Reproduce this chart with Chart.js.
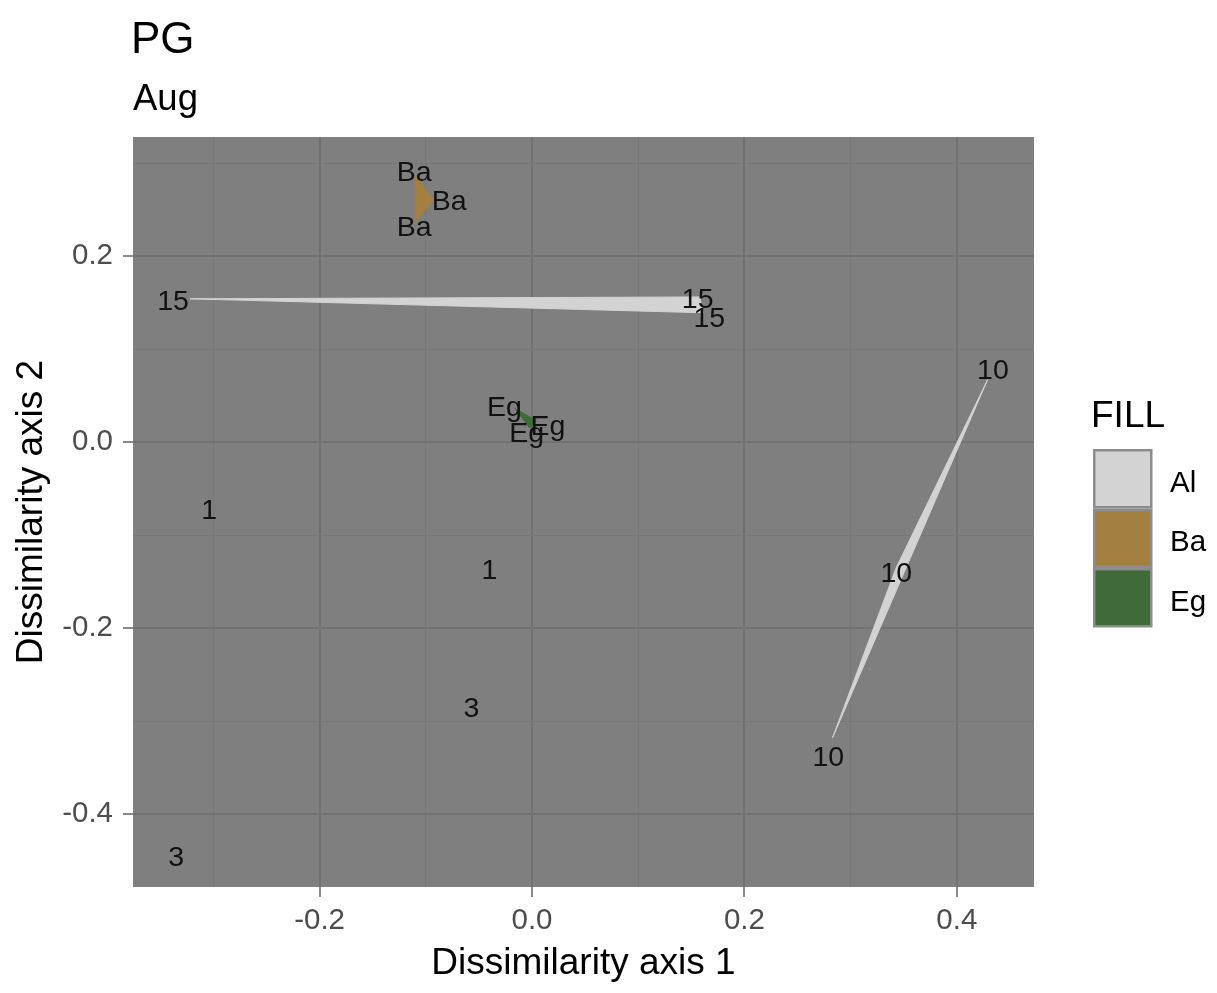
<!DOCTYPE html>
<html>
<head>
<meta charset="utf-8">
<script src="https://cdn.jsdelivr.net/npm/chart.js@4.4.1/dist/chart.umd.min.js"></script>
<style>
  html, body { margin: 0; padding: 0; background: #fff; }
  #wrap { width: 1217px; height: 993px; }
</style>
</head>
<body>
<div id="wrap"><canvas id="nmds"></canvas></div>
<script>
// hull groups and which fill they use
const GROUPS = ["15", "10", "Ba", "Eg"];
const GROUP_FILL = ["Al", "Al", "Ba", "Eg"];

// hull vertices (axis 1, axis 2) per group
const HULL_X = [
  [-0.322, 0.158, 0.161],
  [0.429, 0.343, 0.283],
  [-0.110, -0.093, -0.110],
  [-0.016, 0.004, -0.002],
];
const HULL_Y = [
  [0.154, 0.156, 0.139],
  [0.067, -0.135, -0.318],
  [0.287, 0.260, 0.237],
  [0.036, 0.023, 0.015],
];

// sample text labels
const LABELS = ["Ba", "Ba", "Ba", "15", "15", "15", "Eg", "Eg", "Eg", "10", "10", "10", "1", "1", "3", "3"];
const LABEL_X = [-0.111, -0.078, -0.111, -0.338, 0.156, 0.167, -0.026, 0.015, -0.005, 0.434, 0.343, 0.279, -0.304, -0.040, -0.057, -0.335];
const LABEL_Y = [0.291, 0.260, 0.232, 0.153, 0.155, 0.134, 0.039, 0.018, 0.011, 0.078, -0.140, -0.338, -0.072, -0.137, -0.285, -0.445];

const FILL_NAMES = ["Al", "Ba", "Eg"];
const FILL_COLORS = ["#D3D3D3", "#A3803F", "#3E6B37"];

const X_TICKS = [-0.3, -0.2, -0.1, 0, 0.1, 0.2, 0.3, 0.4];
const X_TICK_LABELS = ["", "-0.2", "", "0.0", "", "0.2", "", "0.4"];
const Y_TICKS = [-0.4, -0.3, -0.2, -0.1, 0, 0.1, 0.2, 0.3];
const Y_TICK_LABELS = ["-0.4", "", "-0.2", "", "0.0", "", "0.2", ""];

const FONT = "'Liberation Sans', Arial, Helvetica, sans-serif";

const datasets = GROUPS.map((g, i) => {
  const col = FILL_COLORS[FILL_NAMES.indexOf(GROUP_FILL[i])];
  const pts = HULL_X[i].map((x, j) => ({ x: x, y: HULL_Y[i][j] }));
  pts.push(pts[0]);
  return {
    label: g,
    data: pts,
    showLine: true,
    fill: "shape",
    backgroundColor: col,
    borderColor: col,
    borderWidth: 1,
    pointRadius: 0,
    tension: 0
  };
});

function isMajor(list, labels, v) {
  const k = list.findIndex(t => Math.abs(t - v) < 1e-9);
  return k >= 0 && labels[k] !== "";
}

const panelBg = {
  id: "panelBg",
  beforeDraw(chart) {
    const { ctx, chartArea: a } = chart;
    ctx.save();
    ctx.fillStyle = "#7F7F7F";
    ctx.fillRect(a.left, a.top, a.right - a.left, a.bottom - a.top);
    ctx.restore();
  }
};

const textLabels = {
  id: "textLabels",
  afterDatasetsDraw(chart) {
    const { ctx, scales } = chart;
    ctx.save();
    ctx.font = "28.5px " + FONT;
    ctx.fillStyle = "#111";
    ctx.textAlign = "center";
    ctx.textBaseline = "middle";
    LABELS.forEach((t, i) => {
      ctx.fillText(t, scales.x.getPixelForValue(LABEL_X[i]), scales.y.getPixelForValue(LABEL_Y[i]) + 2);
    });
    ctx.restore();
  }
};

const titlesAndKey = {
  id: "titlesAndKey",
  afterDraw(chart) {
    const { ctx } = chart;
    ctx.save();
    ctx.fillStyle = "#000";
    ctx.textAlign = "left";
    ctx.textBaseline = "alphabetic";
    ctx.font = "44px " + FONT;
    ctx.fillText("PG", 131, 53);
    ctx.font = "36.5px " + FONT;
    ctx.fillText("Aug", 133, 110);

    // fill legend
    ctx.font = "37px " + FONT;
    ctx.fillText("FILL", 1091, 427);
    const kx = 1093, ky = 449, ks = 59.5;
    ctx.font = "29.5px " + FONT;
    FILL_NAMES.forEach((n, i) => {
      const y = ky + i * ks;
      ctx.fillStyle = "#8C8C8C";
      ctx.fillRect(kx, y, ks, ks);
      ctx.fillStyle = FILL_COLORS[i];
      ctx.fillRect(kx + 2.5, y + 2.5, ks - 5, ks - 5);
      ctx.fillStyle = "#000";
      ctx.textBaseline = "middle";
      ctx.fillText(n, 1170, y + ks / 2 + 5);
    });
    ctx.restore();
  }
};

new Chart(document.getElementById("nmds"), {
  type: "scatter",
  data: { datasets: datasets },
  plugins: [panelBg, textLabels, titlesAndKey],
  options: {
    responsive: true,
    maintainAspectRatio: false,
    animation: false,
    layout: { padding: { top: 137, right: 183, left: 0, bottom: 0 } },
    plugins: {
      legend: { display: false },
      tooltip: { enabled: false }
    },
    scales: {
      x: {
        type: "linear",
        min: -0.3757,
        max: 0.4727,
        afterFit(scale) { scale.height = 106; },
        afterBuildTicks(scale) { scale.ticks = X_TICKS.map(v => ({ value: v })); },
        border: { display: false },
        grid: {
          color: c => isMajor(X_TICKS, X_TICK_LABELS, c.tick.value) ? "#727272" : "#787878",
          lineWidth: c => isMajor(X_TICKS, X_TICK_LABELS, c.tick.value) ? 2 : 1,
          tickColor: c => isMajor(X_TICKS, X_TICK_LABELS, c.tick.value) ? "#8A8A8A" : "rgba(0,0,0,0)",
          tickWidth: 2,
          tickLength: 10
        },
        ticks: {
          autoSkip: false,
          maxRotation: 0,
          padding: 6,
          color: "#4D4D4D",
          font: { family: FONT, size: 29.5 },
          callback: (v, i) => X_TICK_LABELS[i]
        },
        title: {
          display: true,
          text: "Dissimilarity axis 1",
          color: "#000",
          font: { family: FONT, size: 37, lineHeight: 1 },
          padding: { top: 0, bottom: 11 }
        }
      },
      y: {
        type: "linear",
        min: -0.4785,
        max: 0.328,
        afterFit(scale) { scale.width = 133; },
        afterBuildTicks(scale) { scale.ticks = Y_TICKS.map(v => ({ value: v })); },
        border: { display: false },
        grid: {
          color: c => isMajor(Y_TICKS, Y_TICK_LABELS, c.tick.value) ? "#727272" : "#787878",
          lineWidth: c => isMajor(Y_TICKS, Y_TICK_LABELS, c.tick.value) ? 2 : 1,
          tickColor: c => isMajor(Y_TICKS, Y_TICK_LABELS, c.tick.value) ? "#8A8A8A" : "rgba(0,0,0,0)",
          tickWidth: 2,
          tickLength: 10
        },
        ticks: {
          autoSkip: false,
          padding: 10,
          color: "#4D4D4D",
          font: { family: FONT, size: 29.5 },
          callback: (v, i) => Y_TICK_LABELS[i]
        },
        title: {
          display: true,
          text: "Dissimilarity axis 2",
          color: "#000",
          font: { family: FONT, size: 37, lineHeight: 1 },
          padding: { top: 13, bottom: 0 }
        }
      }
    }
  }
});
</script>
</body>
</html>
